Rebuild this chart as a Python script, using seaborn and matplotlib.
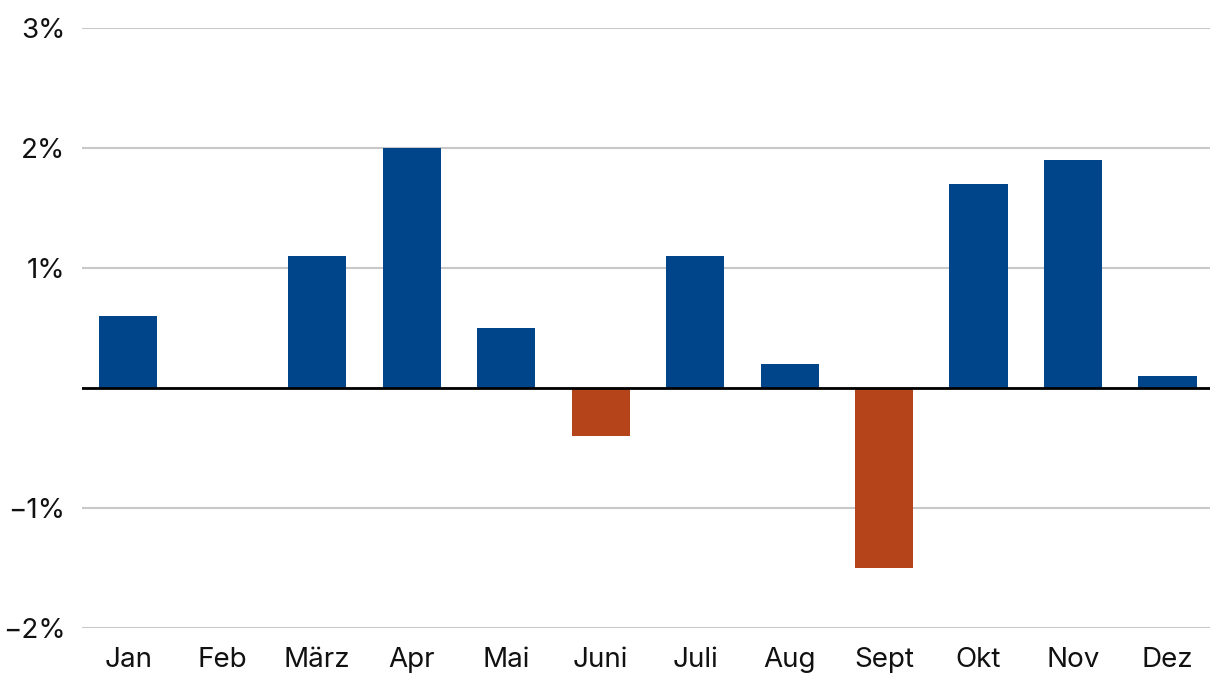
import matplotlib
matplotlib.use("Agg")
import matplotlib.pyplot as plt
import seaborn as sns
import pandas as pd

months = ["Jan", "Feb", "März", "Apr", "Mai", "Juni", "Juli", "Aug", "Sept", "Okt", "Nov", "Dez"]
values = [0.6, 0.0, 1.1, 2.0, 0.5, -0.4, 1.1, 0.2, -1.5, 1.7, 1.9, 0.1]
y_ticks = [-2, -1, 0, 1, 2, 3]
y_labels = ["\u22122%", "\u22121%", "", "1%", "2%", "3%"]

pos_color = "#00458A"
neg_color = "#B5441A"

sns.set_theme(style="white")
plt.rcParams["font.family"] = ["Inter", "DejaVu Sans"]

df = pd.DataFrame({"month": months, "value": values})
df["sign"] = ["neg" if v < 0 else "pos" for v in values]

fig = plt.figure(figsize=(12.2, 6.96), dpi=100)
ax = fig.add_axes([82 / 1220, (696 - 628) / 696, (1210 - 82) / 1220, 600 / 696])

sns.barplot(data=df, x="month", y="value", hue="sign", order=months,
            palette={"pos": pos_color, "neg": neg_color}, dodge=False,
            width=0.615, legend=False, ax=ax, saturation=1, zorder=2,
            linewidth=0, edgecolor="none")

ax.set_ylim(-2, 3)
ax.set_xlim(-0.49, 11.45)
ax.set_yticks(y_ticks)
ax.set_yticklabels(y_labels)
ax.grid(axis="y", color="#c8c8c8", linewidth=1.5, zorder=0)
ax.set_axisbelow(True)
ax.axhline(0, color="black", linewidth=2, zorder=3)
for s in ax.spines.values():
    s.set_visible(False)
ax.tick_params(axis="both", length=0, labelsize=20, colors="#111111")
ax.tick_params(axis="y", pad=12)
ax.tick_params(axis="x", pad=13.5)
ax.set_xlabel("")
ax.set_ylabel("")

fig.savefig("out.png", dpi=100)
